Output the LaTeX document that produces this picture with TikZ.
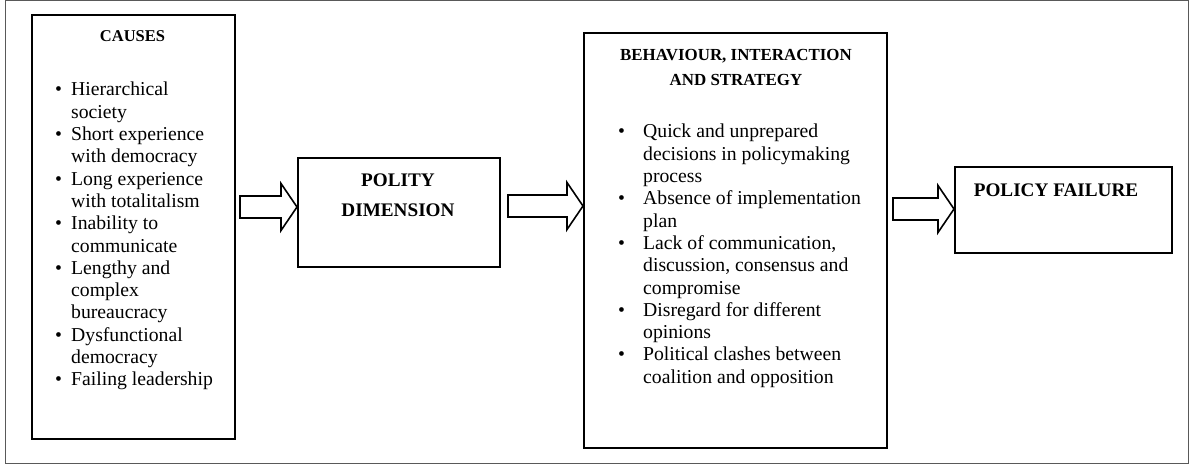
\documentclass[tikz,border=0pt]{standalone}
\usepackage{fontspec}
\setmainfont{Liberation Serif}
\usetikzlibrary{calc}
\tikzset{
 box/.style={draw, line width=1.6pt, inner sep=0pt},
 barrow/.style={draw, line width=1.6pt, line join=miter},
 title/.style={font=\fontsize{16.5}{25}\selectfont\bfseries, align=center, inner sep=0pt},
 bigtitle/.style={font=\fontsize{19.2}{30}\selectfont\bfseries, align=center, inner sep=0pt},
 body/.style={font=\fontsize{19.7}{22.3}\selectfont, inner sep=0pt, anchor=base west},
}
\newcommand\blockarr[2]{%
 \draw[barrow] let \p1=(#1), \p2=(#2 |- #1) in
 (\x1,\y1+11pt) -- (\x2-16pt,\y1+11pt) -- (\x2-16pt,\y1+23.5pt) -- (\x2,\y1)
 -- (\x2-16pt,\y1-23.5pt) -- (\x2-16pt,\y1-11pt) -- (\x1,\y1-11pt) -- cycle;}
\begin{document}
\begin{tikzpicture}[x=1pt,y=-1pt]
\useasboundingbox (0,0) rectangle (1192,465);
\draw[black!65, line width=1pt] (5,1) rectangle (1188,463);
% boxes
\node[box, minimum width=203pt, minimum height=424pt, anchor=north west] (causes) at (31,14) {};
\node[box, minimum width=202pt, minimum height=109pt, anchor=north west] (polity) at (297,157) {};
\node[box, minimum width=303pt, minimum height=415pt, anchor=north west] (behav) at (583,32) {};
\node[box, minimum width=217pt, minimum height=86pt, anchor=north west] (failure) at (954,166) {};
% titles
\node[title, anchor=base] (causesT) at (132.5,42) {CAUSES};
\node[bigtitle] (polityT) at (398,195) {POLITY\\DIMENSION};
\node[title, font=\fontsize{16.9}{25}\selectfont\bfseries] (behavT) at (736,67) {BEHAVIOUR, INTERACTION\\AND STRATEGY};
\node[bigtitle, anchor=base] (failureT) at (1056,197) {POLICY FAILURE};
% lists
\node[body] (causesL) at (55,96) {\begin{tabular}[t]{@{}p{16pt}@{}l@{}}
\textbullet & Hierarchical\\
 & society\\
\textbullet & Short experience\\
 & with democracy\\
\textbullet & Long experience\\
 & with totalitalism\\
\textbullet & Inability to\\
 & communicate\\
\textbullet & Lengthy and\\
 & complex\\
 & bureaucracy\\
\textbullet & Dysfunctional\\
 & democracy\\
\textbullet & Failing leadership
\end{tabular}};
\node[body] (behavL) at (618,138) {\begin{tabular}[t]{@{}p{25pt}@{}l@{}}
\textbullet & Quick and unprepared\\
 & decisions in policymaking\\
 & process\\
\textbullet & Absence of implementation\\
 & plan\\
\textbullet & Lack of communication,\\
 & discussion, consensus and\\
 & compromise\\
\textbullet & Disregard for different\\
 & opinions\\
\textbullet & Political clashes between\\
 & coalition and opposition
\end{tabular}};
% arrows
\coordinate (s1) at (240,207);
\coordinate (s2) at (508,206);
\coordinate (s3) at (893,209);
\blockarr{s1}{polity.west}
\blockarr{s2}{behav.west}
\blockarr{s3}{failure.west}
\end{tikzpicture}
\end{document}
